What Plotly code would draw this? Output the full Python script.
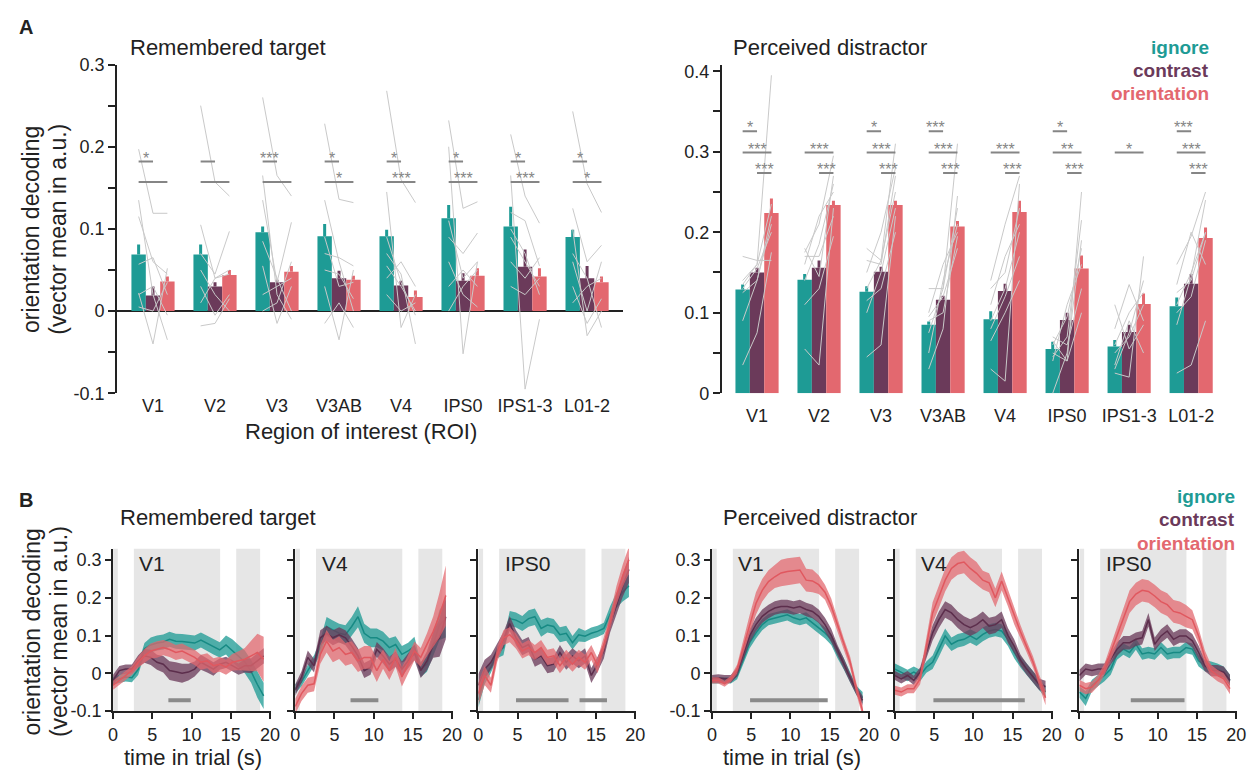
import plotly.graph_objects as go

W, H = 1258, 782
FONT = "Liberation Sans, Arial, Helvetica, sans-serif"
INK = "#222222"
SIG_GRAY = "#858585"
SUBJ_GRAY = "#c9c9c9"
EPOCH_GRAY = "#e6e6e6"

C_IGN = "#1e9b95"
C_CON = "#6b3a5a"
C_ORI = "#e3686f"
BAND = {"ign": "rgba(30,155,149,0.76)", "con": "rgba(107,58,90,0.76)", "ori": "rgba(227,104,111,0.74)"}
LINE = {"ign": "#178a84", "con": "#5c2e4c", "ori": "#e0585f"}

# ---------------------------------------------------------------- bar data
ROIS = ["V1", "V2", "V3", "V3AB", "V4", "IPS0", "IPS1-3", "L01-2"]

# Remembered target: group means and upper end of the error bar
tgt_ignore = [0.069, 0.069, 0.096, 0.091, 0.091, 0.113, 0.103, 0.090]
tgt_ignore_hi = [0.081, 0.081, 0.103, 0.106, 0.099, 0.129, 0.127, 0.099]
tgt_contrast = [0.019, 0.030, 0.035, 0.040, 0.031, 0.037, 0.054, 0.040]
tgt_contrast_hi = [0.030, 0.035, 0.038, 0.049, 0.037, 0.046, 0.075, 0.055]
tgt_orient = [0.036, 0.044, 0.048, 0.038, 0.017, 0.043, 0.042, 0.035]
tgt_orient_hi = [0.042, 0.050, 0.055, 0.043, 0.025, 0.052, 0.052, 0.042]

# Perceived distractor
dis_ignore = [0.129, 0.141, 0.126, 0.085, 0.092, 0.055, 0.058, 0.108]
dis_ignore_hi = [0.135, 0.148, 0.133, 0.089, 0.102, 0.064, 0.066, 0.119]
dis_contrast = [0.150, 0.156, 0.151, 0.116, 0.127, 0.091, 0.076, 0.136]
dis_contrast_hi = [0.156, 0.165, 0.157, 0.121, 0.136, 0.100, 0.085, 0.148]
dis_orient = [0.224, 0.234, 0.234, 0.207, 0.225, 0.155, 0.111, 0.193]
dis_orient_hi = [0.242, 0.239, 0.239, 0.214, 0.239, 0.171, 0.124, 0.206]

# Individual participants (ignore, contrast, orientation) per ROI
tgt_subjects = [
    [[0.197, 0.119, 0.119], [0.135, 0.020, -0.035], [0.115, 0.060, 0.045], [0.057, 0.065, 0.020],
     [0.022, -0.040, 0.052], [0.005, 0.000, 0.035], [0.020, 0.030, -0.005]],
    [[0.250, 0.157, 0.140], [0.105, 0.040, 0.050], [0.070, 0.045, 0.097], [0.030, -0.005, 0.020],
     [-0.018, -0.015, 0.015], [0.050, 0.020, 0.000], [0.010, 0.040, 0.045]],
    [[0.260, 0.165, 0.140], [0.165, 0.020, -0.010], [0.135, 0.035, 0.108], [0.085, 0.040, 0.000],
     [0.055, -0.015, 0.030], [0.020, 0.030, 0.040], [0.000, 0.010, 0.060]],
    [[0.228, 0.136, 0.132], [0.135, 0.060, 0.000], [0.070, 0.065, 0.055], [0.030, -0.035, 0.050],
     [-0.015, 0.010, -0.020], [0.090, 0.030, 0.035], [0.050, 0.045, 0.015]],
    [[0.268, 0.160, 0.132], [0.145, -0.020, 0.020], [0.070, 0.045, -0.040], [0.040, 0.060, 0.030],
     [0.020, 0.000, 0.010], [0.055, 0.030, 0.000], [0.090, 0.035, -0.005]],
    [[0.232, 0.125, 0.133], [0.200, -0.052, 0.060], [0.090, 0.070, 0.095], [0.060, 0.020, 0.005],
     [0.030, 0.050, 0.030], [0.110, 0.040, 0.060], [0.000, 0.030, 0.050]],
    [[0.215, 0.140, 0.107], [0.165, -0.095, -0.010], [0.120, 0.110, 0.055], [0.090, 0.060, 0.030],
     [0.060, 0.040, 0.065], [0.030, 0.020, 0.040], [0.100, 0.070, 0.020]],
    [[0.243, 0.155, 0.120], [0.125, 0.060, 0.080], [0.100, -0.030, 0.000], [0.060, 0.000, 0.060],
     [0.030, -0.015, 0.015], [0.070, 0.040, -0.020], [0.010, 0.030, 0.040]],
]
dis_subjects = [
    [[0.135, 0.160, 0.395], [0.090, 0.140, 0.210], [0.035, 0.075, 0.175], [0.170, 0.165, 0.165],
     [0.140, 0.160, 0.235], [0.125, 0.140, 0.220], [0.130, 0.155, 0.200]],
    [[0.175, 0.210, 0.295], [0.180, 0.145, 0.270], [0.055, 0.035, 0.230], [0.110, 0.130, 0.195],
     [0.160, 0.220, 0.250], [0.170, 0.170, 0.220], [0.140, 0.185, 0.260]],
    [[0.180, 0.165, 0.310], [0.150, 0.200, 0.280], [0.045, 0.060, 0.220], [0.115, 0.130, 0.200],
     [0.130, 0.165, 0.250], [0.165, 0.160, 0.270], [0.100, 0.150, 0.230]],
    [[0.130, 0.130, 0.310], [0.030, 0.080, 0.245], [0.090, 0.100, 0.195], [0.050, 0.140, 0.210],
     [0.095, 0.120, 0.180], [0.075, 0.130, 0.230], [0.100, 0.160, 0.200]],
    [[0.140, 0.210, 0.270], [0.030, 0.015, 0.260], [0.065, 0.100, 0.140], [0.110, 0.170, 0.210],
     [0.090, 0.130, 0.200], [0.130, 0.150, 0.230], [0.080, 0.120, 0.170]],
    [[0.050, 0.040, 0.250], [0.045, 0.070, 0.215], [0.000, 0.050, 0.190], [0.065, 0.040, 0.100],
     [0.060, 0.095, 0.180], [0.040, 0.110, 0.160], [0.070, 0.060, 0.130]],
    [[0.025, 0.020, 0.170], [0.110, 0.055, 0.085], [0.030, 0.075, 0.140], [0.080, 0.135, 0.090],
     [0.060, 0.100, 0.125], [0.035, 0.090, 0.050], [0.050, 0.070, 0.110]],
    [[0.160, 0.195, 0.250], [0.085, 0.145, 0.240], [0.025, 0.035, 0.090], [0.125, 0.140, 0.200],
     [0.135, 0.200, 0.160], [0.100, 0.120, 0.190], [0.110, 0.150, 0.200]],
]

# Pairwise tests: None = no bracket, "" = bracket without stars
tgt_sig_ic = ["*", "", "***", "*", "*", "*", "*", "*"]
tgt_sig_io = ["", "", "", "*", "***", "***", "***", "*"]
tgt_sig_rows = [0.182, 0.157]
dis_sig_ic = ["*", None, "*", "***", None, "*", None, "***"]
dis_sig_io = ["***", "***", "***", "***", "***", "**", "*", "***"]
dis_sig_co = ["***", "***", "***", "***", "***", "***", None, "***"]
dis_sig_rows = [0.3255, 0.299, 0.2737]

# ---------------------------------------------------------- time courses
TIME = [0.0, 0.8, 1.6, 2.4, 3.2, 4.0, 4.8, 5.6, 6.4, 7.2, 8.0, 8.8, 9.6,
        10.4, 11.2, 12.0, 12.8, 13.6, 14.4, 15.2, 16.0, 16.8, 17.6, 18.4, 19.2]
EPOCHS = [(0.0, 0.6), (2.65, 13.65), (15.7, 18.75)]

tgt_v1_ign = [-0.020, -0.015, -0.010, -0.012, 0.010, 0.065, 0.075, 0.080, 0.083, 0.090, 0.085, 0.084, 0.082,
              0.080, 0.088, 0.080, 0.070, 0.062, 0.075, 0.060, 0.045, 0.030, 0.005, -0.030, -0.060]
tgt_v1_con = [-0.019, 0.007, 0.011, 0.011, 0.033, 0.046, 0.042, 0.029, 0.024, 0.007, 0.004, 0.000, 0.003,
              0.011, 0.029, 0.020, 0.011, 0.024, 0.029, 0.020, 0.011, 0.020, 0.020, 0.033, 0.046]
tgt_v1_ori = [-0.032, -0.019, -0.006, 0.007, 0.029, 0.046, 0.059, 0.063, 0.068, 0.063, 0.055, 0.059, 0.050,
              0.042, 0.029, 0.033, 0.020, 0.024, 0.016, 0.029, 0.033, 0.037, 0.046, 0.055, 0.037]
tgt_v4_ign = [-0.041, -0.023, 0.007, 0.033, 0.068, 0.124, 0.115, 0.106, 0.102, 0.124, 0.150, 0.106, 0.094,
              0.094, 0.085, 0.068, 0.076, 0.050, 0.059, 0.072, 0.010, 0.024, 0.076, 0.128, 0.145]
tgt_v4_con = [-0.045, -0.010, 0.042, 0.020, 0.094, 0.106, 0.094, 0.102, 0.094, 0.072, 0.046, 0.007, 0.016,
              0.063, 0.046, 0.024, 0.037, 0.011, 0.033, 0.055, 0.007, 0.033, 0.076, 0.094, 0.150]
tgt_v4_ori = [-0.088, -0.054, -0.032, -0.028, 0.050, 0.085, 0.059, 0.068, 0.050, 0.055, 0.033, 0.042, 0.042,
              0.007, 0.037, 0.007, 0.042, -0.010, 0.024, 0.059, 0.042, 0.076, 0.111, 0.154, 0.206]
tgt_ips0_ign = [-0.071, -0.010, 0.016, 0.055, 0.068, 0.145, 0.141, 0.132, 0.145, 0.150, 0.119, 0.128, 0.124,
                0.102, 0.106, 0.081, 0.102, 0.098, 0.106, 0.111, 0.119, 0.158, 0.193, 0.215, 0.232]
tgt_ips0_con = [-0.032, 0.011, 0.029, 0.059, 0.089, 0.132, 0.094, 0.068, 0.076, 0.037, 0.046, 0.020, 0.024,
                0.055, 0.029, 0.046, 0.033, 0.046, -0.006, 0.024, 0.059, 0.128, 0.180, 0.232, 0.275]
tgt_ips0_ori = [-0.054, -0.006, -0.032, 0.050, 0.094, 0.102, 0.085, 0.059, 0.068, 0.055, 0.068, 0.042, 0.046,
                0.020, 0.042, 0.024, 0.042, 0.029, 0.055, 0.020, 0.076, 0.137, 0.206, 0.258, 0.301]

dis_v1_ign = [-0.019, -0.019, -0.019, -0.019, -0.006, 0.038, 0.081, 0.107, 0.129, 0.142, 0.147, 0.151, 0.155,
              0.147, 0.142, 0.147, 0.134, 0.121, 0.107, 0.090, 0.055, 0.025, -0.010, -0.045, -0.065]
dis_v1_con = [-0.015, -0.013, -0.015, -0.015, 0.003, 0.051, 0.099, 0.129, 0.151, 0.164, 0.173, 0.177, 0.177,
              0.173, 0.177, 0.169, 0.164, 0.151, 0.129, 0.100, 0.060, 0.025, -0.012, -0.045, -0.072]
dis_v1_ori = [-0.019, -0.019, -0.028, -0.015, 0.011, 0.070, 0.130, 0.185, 0.220, 0.243, 0.256, 0.266, 0.270,
              0.272, 0.274, 0.247, 0.245, 0.235, 0.215, 0.178, 0.128, 0.077, 0.030, -0.040, -0.100]
dis_v4_ign = [0.011, 0.003, -0.006, 0.003, -0.006, 0.016, 0.029, 0.064, 0.099, 0.077, 0.086, 0.090, 0.099,
              0.090, 0.103, 0.112, 0.116, 0.112, 0.090, 0.055, 0.030, 0.011, -0.010, -0.030, -0.050]
dis_v4_con = [-0.006, -0.015, -0.006, -0.019, 0.003, 0.055, 0.107, 0.142, 0.169, 0.160, 0.142, 0.129, 0.121,
              0.129, 0.142, 0.125, 0.129, 0.142, 0.100, 0.072, 0.035, 0.011, -0.010, -0.030, -0.035]
dis_v4_ori = [-0.045, -0.050, -0.041, -0.041, -0.015, 0.072, 0.160, 0.203, 0.247, 0.278, 0.291, 0.295, 0.278,
              0.265, 0.247, 0.240, 0.200, 0.245, 0.200, 0.150, 0.110, 0.070, 0.030, -0.020, -0.065]
dis_ips0_ign = [-0.050, -0.067, -0.032, -0.019, -0.006, 0.011, 0.051, 0.064, 0.055, 0.077, 0.051, 0.055, 0.051,
                0.068, 0.051, 0.055, 0.055, 0.068, 0.064, 0.033, 0.020, 0.016, 0.011, 0.003, -0.019]
dis_ips0_con = [-0.006, 0.011, 0.007, 0.011, 0.011, 0.038, 0.064, 0.081, 0.081, 0.090, 0.094, 0.142, 0.077,
                0.099, 0.112, 0.090, 0.099, 0.099, 0.086, 0.055, 0.020, 0.007, 0.007, 0.003, -0.019]
dis_ips0_ori = [-0.032, -0.041, -0.037, -0.019, 0.011, 0.055, 0.099, 0.142, 0.190, 0.210, 0.220, 0.217, 0.205,
                0.190, 0.182, 0.164, 0.160, 0.151, 0.142, 0.099, 0.042, 0.007, -0.006, -0.015, -0.041]

# standard error half-widths of the shaded bands
tgt_v1_ign_se = [0.010, 0.012, 0.012, 0.012, 0.015, 0.015, 0.020, 0.020, 0.020, 0.020, 0.020, 0.020, 0.020,
                 0.020, 0.020, 0.020, 0.020, 0.020, 0.025, 0.030, 0.030, 0.030, 0.030, 0.035, 0.035]
tgt_v1_con_se = [0.015, 0.012, 0.012, 0.012, 0.015, 0.018, 0.020, 0.020, 0.022, 0.025, 0.025, 0.025, 0.022,
                 0.020, 0.020, 0.018, 0.018, 0.015, 0.015, 0.015, 0.015, 0.018, 0.020, 0.020, 0.020]
tgt_v1_ori_se = [0.012, 0.012, 0.012, 0.012, 0.015, 0.018, 0.020, 0.022, 0.020, 0.020, 0.020, 0.020, 0.020,
                 0.020, 0.020, 0.020, 0.020, 0.020, 0.020, 0.022, 0.025, 0.030, 0.040, 0.050, 0.060]
tgt_v4_ign_se = [0.012, 0.012, 0.015, 0.015, 0.020, 0.025, 0.025, 0.025, 0.025, 0.025, 0.028, 0.025, 0.025,
                 0.025, 0.025, 0.025, 0.022, 0.022, 0.022, 0.025, 0.020, 0.020, 0.030, 0.040, 0.050]
tgt_v4_con_se = [0.015, 0.015, 0.018, 0.018, 0.020, 0.020, 0.020, 0.020, 0.020, 0.020, 0.020, 0.020, 0.020,
                 0.020, 0.020, 0.020, 0.020, 0.020, 0.020, 0.020, 0.020, 0.025, 0.035, 0.050, 0.060]
tgt_v4_ori_se = [0.020, 0.020, 0.020, 0.020, 0.025, 0.030, 0.030, 0.030, 0.030, 0.030, 0.030, 0.030, 0.030,
                 0.030, 0.025, 0.025, 0.025, 0.025, 0.025, 0.025, 0.025, 0.030, 0.040, 0.060, 0.080]
tgt_ips0_ign_se = [0.020, 0.020, 0.015, 0.015, 0.020, 0.020, 0.020, 0.020, 0.022, 0.022, 0.022, 0.020, 0.020,
                   0.020, 0.020, 0.018, 0.018, 0.015, 0.015, 0.015, 0.015, 0.020, 0.020, 0.025, 0.030]
tgt_ips0_con_se = [0.030, 0.025, 0.020, 0.020, 0.020, 0.020, 0.020, 0.020, 0.020, 0.020, 0.020, 0.020, 0.020,
                   0.020, 0.020, 0.020, 0.020, 0.020, 0.020, 0.020, 0.020, 0.020, 0.025, 0.030, 0.035]
tgt_ips0_ori_se = [0.030, 0.025, 0.020, 0.020, 0.020, 0.020, 0.020, 0.020, 0.020, 0.020, 0.020, 0.020, 0.020,
                   0.020, 0.020, 0.020, 0.020, 0.020, 0.020, 0.020, 0.020, 0.020, 0.025, 0.030, 0.035]
dis_v1_ign_se = [0.008, 0.008, 0.008, 0.008, 0.010, 0.012, 0.015, 0.015, 0.015, 0.015, 0.015, 0.015, 0.015,
                 0.015, 0.015, 0.015, 0.015, 0.015, 0.015, 0.015, 0.015, 0.015, 0.012, 0.012, 0.015]
dis_v1_con_se = [0.010, 0.010, 0.010, 0.010, 0.012, 0.015, 0.018, 0.018, 0.018, 0.018, 0.018, 0.018, 0.018,
                 0.018, 0.018, 0.018, 0.018, 0.018, 0.018, 0.018, 0.015, 0.015, 0.012, 0.012, 0.012]
dis_v1_ori_se = [0.008, 0.008, 0.008, 0.008, 0.012, 0.020, 0.025, 0.030, 0.030, 0.030, 0.030, 0.035, 0.035,
                 0.035, 0.035, 0.030, 0.030, 0.025, 0.020, 0.020, 0.015, 0.015, 0.015, 0.015, 0.015]
dis_v4_ign_se = [0.015, 0.015, 0.015, 0.015, 0.015, 0.015, 0.018, 0.020, 0.020, 0.018, 0.018, 0.018, 0.018,
                 0.018, 0.018, 0.018, 0.018, 0.018, 0.018, 0.015, 0.015, 0.015, 0.015, 0.015, 0.015]
dis_v4_con_se = [0.012, 0.012, 0.012, 0.012, 0.012, 0.015, 0.020, 0.022, 0.022, 0.022, 0.022, 0.022, 0.022,
                 0.022, 0.022, 0.022, 0.022, 0.022, 0.020, 0.018, 0.015, 0.015, 0.015, 0.015, 0.015]
dis_v4_ori_se = [0.012, 0.012, 0.012, 0.012, 0.015, 0.022, 0.028, 0.030, 0.030, 0.030, 0.030, 0.030, 0.030,
                 0.030, 0.025, 0.025, 0.025, 0.025, 0.022, 0.020, 0.018, 0.015, 0.015, 0.015, 0.020]
dis_ips0_ign_se = [0.015, 0.020, 0.015, 0.015, 0.015, 0.015, 0.015, 0.015, 0.015, 0.015, 0.015, 0.015, 0.015,
                   0.015, 0.015, 0.015, 0.015, 0.015, 0.015, 0.015, 0.015, 0.015, 0.015, 0.015, 0.015]
dis_ips0_con_se = [0.015, 0.015, 0.015, 0.015, 0.015, 0.015, 0.018, 0.018, 0.018, 0.018, 0.018, 0.018, 0.018,
                   0.018, 0.018, 0.018, 0.018, 0.018, 0.018, 0.018, 0.015, 0.015, 0.015, 0.015, 0.015]
dis_ips0_ori_se = [0.015, 0.015, 0.015, 0.015, 0.015, 0.020, 0.025, 0.028, 0.030, 0.030, 0.030, 0.030, 0.030,
                   0.030, 0.030, 0.030, 0.030, 0.030, 0.025, 0.020, 0.018, 0.015, 0.015, 0.015, 0.015]

# significant time windows (s) under each panel
tgt_v1_sig = [(7.05, 9.9)]
tgt_v4_sig = [(7.05, 10.6)]
tgt_ips0_sig = [(4.8, 11.5), (12.9, 16.4)]
dis_v1_sig = [(4.85, 14.75)]
dis_v4_sig = [(4.9, 16.55)]
dis_ips0_sig = [(6.55, 13.4)]
SIG_LEVEL = -0.072

# ---------------------------------------------------------- helpers
def dom_x(a, b):
    return [a / W, b / W]


def dom_y(top, bottom):
    return [1 - bottom / H, 1 - top / H]


def pxx(v):
    return v / W


def pxy(v):
    return 1 - v / H


fig = go.Figure()
shapes, annotations = [], []
BAR_W = 0.232
OFFS = [-BAR_W, 0.0, BAR_W]


def add_bars(xa, ya, groups, subjects):
    for (vals, hi, col), off in zip(groups, OFFS):
        fig.add_trace(go.Bar(
            x=[i + off for i in range(len(ROIS))], y=vals, width=BAR_W,
            marker=dict(color=col, line=dict(width=0)),
            error_y=dict(type="data", symmetric=False,
                         array=[h - v for h, v in zip(hi, vals)], arrayminus=[0] * len(vals),
                         color=col, thickness=3, width=0),
            xaxis=xa, yaxis=ya, hoverinfo="skip"))
    xs, ys = [], []
    for i, subj in enumerate(subjects):
        for s in subj:
            xs += [i + OFFS[0], i + OFFS[1], i + OFFS[2], None]
            ys += list(s) + [None]
    fig.add_trace(go.Scatter(x=xs, y=ys, mode="lines", line=dict(color=SUBJ_GRAY, width=1),
                             xaxis=xa, yaxis=ya, hoverinfo="skip"))


def add_sig(xa, ya, labels, pair, level):
    a, b = pair
    for i, lab in enumerate(labels):
        if lab is None:
            continue
        x0, x1 = i + OFFS[a], i + OFFS[b]
        shapes.append(dict(type="line", xref=xa, yref=ya, x0=x0, x1=x1, y0=level, y1=level,
                           line=dict(color=SIG_GRAY, width=2)))
        if lab:
            annotations.append(dict(xref=xa, yref=ya, x=(x0 + x1) / 2, y=level, text=lab,
                                    showarrow=False, xanchor="center", yanchor="bottom", yshift=-7,
                                    font=dict(size=16, color=SIG_GRAY, family=FONT)))


add_bars("x", "y", [(tgt_ignore, tgt_ignore_hi, C_IGN), (tgt_contrast, tgt_contrast_hi, C_CON),
                    (tgt_orient, tgt_orient_hi, C_ORI)], tgt_subjects)
add_bars("x2", "y2", [(dis_ignore, dis_ignore_hi, C_IGN), (dis_contrast, dis_contrast_hi, C_CON),
                      (dis_orient, dis_orient_hi, C_ORI)], dis_subjects)
add_sig("x", "y", tgt_sig_ic, (0, 1), tgt_sig_rows[0])
add_sig("x", "y", tgt_sig_io, (0, 2), tgt_sig_rows[1])
add_sig("x2", "y2", dis_sig_ic, (0, 1), dis_sig_rows[0])
add_sig("x2", "y2", dis_sig_io, (0, 2), dis_sig_rows[1])
add_sig("x2", "y2", dis_sig_co, (1, 2), dis_sig_rows[2])

# ---------------------------------------------------------- time-course panels
panels = [
    ("V1", [(tgt_v1_ign, tgt_v1_ign_se, "ign"), (tgt_v1_con, tgt_v1_con_se, "con"), (tgt_v1_ori, tgt_v1_ori_se, "ori")], tgt_v1_sig),
    ("V4", [(tgt_v4_ign, tgt_v4_ign_se, "ign"), (tgt_v4_con, tgt_v4_con_se, "con"), (tgt_v4_ori, tgt_v4_ori_se, "ori")], tgt_v4_sig),
    ("IPS0", [(tgt_ips0_ign, tgt_ips0_ign_se, "ign"), (tgt_ips0_con, tgt_ips0_con_se, "con"), (tgt_ips0_ori, tgt_ips0_ori_se, "ori")], tgt_ips0_sig),
    ("V1", [(dis_v1_ign, dis_v1_ign_se, "ign"), (dis_v1_con, dis_v1_con_se, "con"), (dis_v1_ori, dis_v1_ori_se, "ori")], dis_v1_sig),
    ("V4", [(dis_v4_ign, dis_v4_ign_se, "ign"), (dis_v4_con, dis_v4_con_se, "con"), (dis_v4_ori, dis_v4_ori_se, "ori")], dis_v4_sig),
    ("IPS0", [(dis_ips0_ign, dis_ips0_ign_se, "ign"), (dis_ips0_con, dis_ips0_con_se, "con"), (dis_ips0_ori, dis_ips0_ori_se, "ori")], dis_ips0_sig),
]
panel_left = [109.3, 293.5, 478.7, 715.0, 900.0, 1086.5]
PANEL_W = 159.4
T_RANGE = [0, 20.1]
Y_RANGE = [-0.1, 0.33]

for k, (name, series, sig) in enumerate(panels):
    n = k + 3
    xa, ya = f"x{n}", f"y{n}"
    for t0, t1 in EPOCHS:
        shapes.append(dict(type="rect", xref=xa, yref=f"{ya} domain", x0=t0, x1=t1, y0=0, y1=1,
                           fillcolor=EPOCH_GRAY, line=dict(width=0), layer="below"))
    for mean, se, key in series:
        upper = [m + s for m, s in zip(mean, se)]
        lower = [m - s for m, s in zip(mean, se)]
        fig.add_trace(go.Scatter(x=TIME + TIME[::-1], y=upper + lower[::-1], fill="toself",
                                 fillcolor=BAND[key], line=dict(width=0), mode="lines",
                                 xaxis=xa, yaxis=ya, hoverinfo="skip"))
        fig.add_trace(go.Scatter(x=TIME, y=mean, mode="lines", line=dict(color=LINE[key], width=1.5),
                                 xaxis=xa, yaxis=ya, hoverinfo="skip"))
    for s0, s1 in sig:
        fig.add_trace(go.Scatter(x=[s0, s1], y=[SIG_LEVEL, SIG_LEVEL], mode="lines",
                                 line=dict(color="#8a8a8a", width=4), xaxis=xa, yaxis=ya, hoverinfo="skip"))
    annotations.append(dict(xref=xa, yref=ya, x=3.1, y=0.292, text=name, showarrow=False,
                            xanchor="left", yanchor="middle", font=dict(size=21, color=INK, family=FONT)))

# ---------------------------------------------------------- axes
axis_common = dict(showgrid=False, linecolor=INK, linewidth=2, tickcolor=INK, tickwidth=2,
                   tickfont=dict(size=18, color=INK, family=FONT), fixedrange=True)

layout_axes = {}
layout_axes["xaxis"] = dict(axis_common, domain=dom_x(113.3, 625), range=[-0.58, 7.58], anchor="y",
                            showline=False, ticks="", tickvals=list(range(len(ROIS))), ticktext=ROIS,
                            zeroline=False)
layout_axes["yaxis"] = dict(axis_common, domain=dom_y(56, 393.3), range=[-0.1, 0.3], anchor="x",
                            showline=True, ticks="outside", ticklen=7,
                            tickvals=[-0.1, 0, 0.1, 0.2, 0.3], ticktext=["-0.1", "0", "0.1", "0.2", "0.3"],
                            minor=dict(dtick=0.05, tick0=0, ticks="outside", ticklen=7, tickwidth=2,
                                       tickcolor=INK, showgrid=False),
                            zeroline=True, zerolinecolor=INK, zerolinewidth=2)
layout_axes["xaxis2"] = dict(axis_common, domain=dom_x(725, 1235), range=[-0.566, 7.566], anchor="y2",
                             showline=False, ticks="", tickvals=list(range(len(ROIS))), ticktext=ROIS,
                             zeroline=False, ticklabelstandoff=10)
layout_axes["yaxis2"] = dict(axis_common, domain=dom_y(56, 393.3), range=[0, 0.4083], anchor="x2",
                             showline=True, ticks="outside", ticklen=7,
                             tickvals=[0, 0.1, 0.2, 0.3, 0.4], ticktext=["0", "0.1", "0.2", "0.3", "0.4"],
                             minor=dict(dtick=0.05, tick0=0, ticks="outside", ticklen=7, tickwidth=2,
                                        tickcolor=INK, showgrid=False),
                             zeroline=False)
for k, left in enumerate(panel_left):
    n = k + 3
    layout_axes[f"xaxis{n}"] = dict(axis_common, domain=dom_x(left, left + PANEL_W), range=T_RANGE,
                                    anchor=f"y{n}", showline=True, ticks="outside", ticklen=6,
                                    tickvals=[0, 5, 10, 15, 20], zeroline=False)
    layout_axes[f"yaxis{n}"] = dict(axis_common, domain=dom_y(553, 719.3), range=Y_RANGE,
                                    anchor=f"x{n}", showline=True, ticks="outside", ticklen=6,
                                    tickvals=[-0.1, 0, 0.1, 0.2, 0.3],
                                    ticktext=["-0.1", "0", "0.1", "0.2", "0.3"],
                                    showticklabels=(k in (0, 3)), zeroline=False)

# ---------------------------------------------------------- text
def paper_text(text, x, y, size, color=INK, xanchor="left", angle=0, bold=False):
    if bold:
        text = f"<b>{text}</b>"
    annotations.append(dict(xref="paper", yref="paper", x=pxx(x), y=pxy(y), text=text, showarrow=False,
                            xanchor=xanchor, yanchor="middle", textangle=angle,
                            font=dict(size=size, color=color, family=FONT)))


paper_text("A", 12, 17, 20, bold=True)
paper_text("B", 12, 503, 20, bold=True)
paper_text("Remembered target", 124, 38, 22)
paper_text("Perceived distractor", 734, 38, 22)
paper_text("Remembered target", 114, 521, 22)
paper_text("Perceived distractor", 724, 521, 22)
paper_text("Region of interest (ROI)", 360, 433, 22, xanchor="center")
paper_text("time in trial (s)", 190, 767, 22, xanchor="center")
paper_text("time in trial (s)", 796, 767, 22, xanchor="center")
for yc in (225, 638):
    paper_text("orientation decoding", 27, yc, 23, xanchor="center", angle=-90)
    paper_text("(vector mean in a.u.)", 54, yc, 23, xanchor="center", angle=-90)
for (label, col), yy in zip([("ignore", C_IGN), ("contrast", C_CON), ("orientation", C_ORI)], (38, 62, 86)):
    paper_text(label, 1220, yy, 19, color=col, xanchor="right", bold=True)
for (label, col), yy in zip([("ignore", C_IGN), ("contrast", C_CON), ("orientation", C_ORI)], (499, 523, 547)):
    paper_text(label, 1246, yy, 19, color=col, xanchor="right", bold=True)

fig.update_layout(
    width=W, height=H, margin=dict(l=0, r=0, t=0, b=0),
    paper_bgcolor="white", plot_bgcolor="rgba(0,0,0,0)",
    showlegend=False, barmode="overlay",
    font=dict(family=FONT, color=INK),
    shapes=shapes, annotations=annotations,
    **layout_axes,
)

fig.write_html("out.html")
